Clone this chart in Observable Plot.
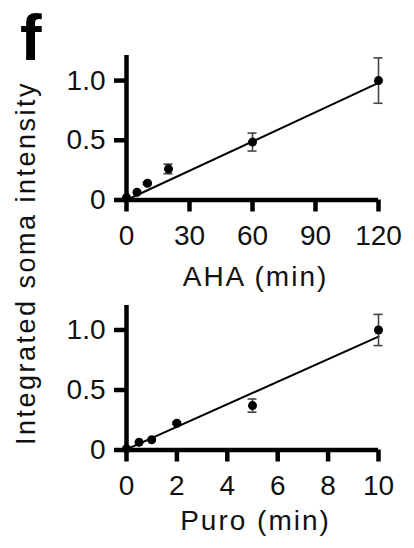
<!DOCTYPE html>
<html><head><meta charset="utf-8">
<script src="https://cdn.jsdelivr.net/npm/d3@7"></script>
<script src="https://cdn.jsdelivr.net/npm/@observablehq/plot@0.6"></script>
<style>
html,body{margin:0;padding:0;background:#fff;}
#wrap{position:relative;width:414px;height:548px;overflow:hidden;font-family:"Liberation Sans",Arial,sans-serif;}
#top{position:absolute;left:0;top:0;}
#bot{position:absolute;left:0;top:290px;}
#overlay{position:absolute;left:0;top:0;pointer-events:none;}
</style></head><body>
<div id="wrap"><div id="top"></div><div id="bot"></div>
<svg id="overlay" width="414" height="548" xmlns="http://www.w3.org/2000/svg">
 <text id="panelLetter" x="20" y="60" font-family="Liberation Sans, Arial, sans-serif" font-weight="bold" font-size="65" fill="#000"></text>
 <text id="yLabel" transform="translate(35,263) rotate(-90)" text-anchor="middle" font-family="Liberation Sans, Arial, sans-serif" font-size="27" letter-spacing="2.5" fill="#111"></text>
</svg></div>
<script>
// ---- data ----
const panelLetter = "f";
const yAxisLabel = "Integrated soma intensity";
const yTicks = [0, 0.5, 1.0];
const yTickLabels = ["0", "0.5", "1.0"];

const ahaLabel = "AHA (min)";
const ahaTicks = [0, 30, 60, 90, 120];
const ahaTime = [0, 5, 10, 20, 60, 120];
const ahaMean = [0.02, 0.065, 0.14, 0.26, 0.485, 1.0];
const ahaErr  = [0, 0.005, 0.01, 0.04, 0.075, 0.19];
const ahaFitX = [0, 120];
const ahaFitY = [0.0, 0.98];

const puroLabel = "Puro (min)";
const puroTicks = [0, 2, 4, 6, 8, 10];
const puroTime = [0, 0.5, 1, 2, 5, 10];
const puroMean = [0.01, 0.065, 0.085, 0.223, 0.37, 1.0];
const puroErr  = [0, 0.005, 0.005, 0.01, 0.055, 0.13];
const puroFitX = [0, 10];
const puroFitY = [0.005, 0.945];

document.getElementById("panelLetter").textContent = panelLetter;
document.getElementById("yLabel").textContent = yAxisLabel;

function panel(o) {
  const data = o.time.map((t, i) => ({t, m: o.mean[i], e: o.err[i]}));
  const errData = data.filter(d => d.e > 0.008);
  const fit = o.fitX.map((x, i) => ({x, y: o.fitY[i]}));
  const svg = Plot.plot({
    width: 414, height: o.height,
    marginLeft: 126, marginRight: 36, marginTop: o.marginTop, marginBottom: o.marginBottom,
    style: {fontFamily: "Liberation Sans, Arial, sans-serif", fontSize: "28px", color: "#111", background: "transparent", overflow: "visible"},
    x: {domain: o.xDomain},
    y: {domain: [0, o.yMax]},
    marks: [
      Plot.axisY(yTicks, {tickSize: 12, tickPadding: 9, strokeWidth: 4.5, stroke: "#000", fontSize: 28,
        tickFormat: d => yTickLabels[yTicks.indexOf(d)], label: null}),
      Plot.axisX(o.xTicks, {tickSize: 12, tickPadding: 13.5, strokeWidth: 4.5, stroke: "#000", fontSize: 28, label: null}),
      Plot.ruleX([0], {strokeWidth: 4.5, stroke: "#000"}),
      Plot.ruleY([0], {strokeWidth: 4.5, stroke: "#000"}),
      Plot.line(fit, {x: "x", y: "y", stroke: "#000", strokeWidth: 2}),
      Plot.ruleX(errData, {x: "t", y1: d => d.m - d.e, y2: d => d.m + d.e, stroke: "#444", strokeWidth: 1.6}),
      Plot.ruleY(errData, {y: d => d.m + d.e, x1: "t", x2: "t", insetLeft: -4.5, insetRight: -4.5, stroke: "#444", strokeWidth: 1.6}),
      Plot.ruleY(errData, {y: d => d.m - d.e, x1: "t", x2: "t", insetLeft: -4.5, insetRight: -4.5, stroke: "#444", strokeWidth: 1.6}),
      Plot.dot(data, {x: "t", y: "m", r: 4.5, fill: "#000", stroke: "none"}),
      Plot.text([o.xLabel], {text: d => d, frameAnchor: "bottom", lineAnchor: "bottom", dy: o.labelDy, dx: 3, fontSize: 28, fill: "#111"})
    ]
  });
  d3.select(svg).selectAll("text").filter(function() { return this.textContent === o.xLabel; })
    .style("letter-spacing", "2px");
  return svg;
}

document.getElementById("top").appendChild(panel({
  time: ahaTime, mean: ahaMean, err: ahaErr, fitX: ahaFitX, fitY: ahaFitY,
  xDomain: [0, 120], xTicks: ahaTicks, xLabel: ahaLabel,
  height: 290, marginTop: 55, marginBottom: 90.5, yMax: 1.21, labelDy: 85.5
}));
document.getElementById("bot").appendChild(panel({
  time: puroTime, mean: puroMean, err: puroErr, fitX: puroFitX, fitY: puroFitY,
  xDomain: [0, 10], xTicks: puroTicks, xLabel: puroLabel,
  height: 258, marginTop: 15, marginBottom: 98.5, yMax: 1.204, labelDy: 80
}));
</script>
</body></html>
